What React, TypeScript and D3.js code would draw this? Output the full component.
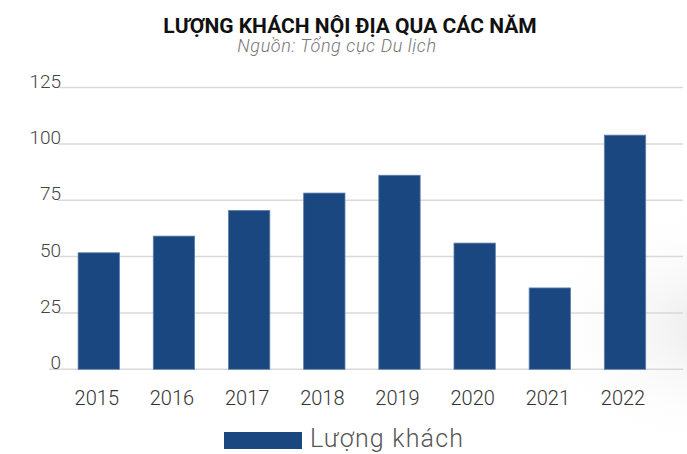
import React from "react";
import * as d3 from "d3";

const years = ["2015", "2016", "2017", "2018", "2019", "2020", "2021", "2022"];
const visitors = [51.7, 59.1, 70.5, 78.2, 86.1, 56.0, 36.1, 103.9];
const yTicks = [0, 25, 50, 75, 100, 125];
const title = "LƯỢNG KHÁCH NỘI ĐỊA QUA CÁC NĂM";
const subtitle = "Nguồn: Tổng cục Du lịch";
const seriesName = "Lượng khách";

const W = 687;
const H = 454;

export default function App() {
  const x = d3
    .scaleBand<string>()
    .domain(years)
    .range([61.2, 662.6])
    .paddingInner(0.45)
    .paddingOuter(0.225);
  const y = d3.scaleLinear().domain([0, 125]).range([369.3, 87.6]);
  const barColor = "#1a4780";
  const font = "Roboto, 'Open Sans', sans-serif";

  return (
    <svg
      width={W}
      height={H}
      style={{ position: "absolute", left: 0, top: 0, background: "#fff" }}
    >
      <defs>
        <radialGradient id="shade" cx="1.05" cy="0.72" r="0.28" gradientUnits="objectBoundingBox">
          <stop offset="0" stopColor="#e6e6e6" stopOpacity="0.9" />
          <stop offset="1" stopColor="#ffffff" stopOpacity="0" />
        </radialGradient>
      </defs>
      <rect x={0} y={0} width={W} height={H} fill="#fff" />
      <rect x={0} y={0} width={W} height={H} fill="url(#shade)" />

      <text
        x={350}
        y={33}
        textAnchor="middle"
        fontFamily={font}
        fontWeight={700}
        fontSize={21}
        fill="#111"
      >
        {title}
      </text>
      <text
        x={337}
        y={52}
        textAnchor="middle"
        fontFamily={font}
        fontStyle="italic"
        fontWeight={300}
        fontSize={18}
        letterSpacing={0.6}
        fill="#777"
      >
        {subtitle}
      </text>

      {yTicks.map((t) => (
        <g key={t}>
          <line
            x1={t === 0 ? 49 : 58}
            x2={683}
            y1={y(t)}
            y2={y(t)}
            stroke="#d9d9d9"
            strokeWidth={1.5}
          />
          <text
            x={61}
            y={y(t)}
            textAnchor="end"
            fontFamily={font}
            fontWeight={300}
            fontSize={19}
            fill="#444"
          >
            {t}
          </text>
        </g>
      ))}

      {years.map((yr, i) => (
        <rect
          key={yr}
          x={x(yr)}
          y={y(visitors[i])}
          width={x.bandwidth()}
          height={y(0) - y(visitors[i])}
          fill={barColor}
          stroke="#5d7fab"
          strokeWidth={0.8}
        />
      ))}

      {years.map((yr) => (
        <text
          key={yr}
          x={(x(yr) as number) + x.bandwidth() / 2 - 2}
          y={405}
          textAnchor="middle"
          fontFamily={font}
          fontWeight={300}
          fontSize={20}
          fill="#333"
        >
          {yr}
        </text>
      ))}

      <rect x={224} y={432} width={78} height={17} fill={barColor} />
      <text
        x={310}
        y={447}
        fontFamily={font}
        fontWeight={300}
        fontSize={25}
        letterSpacing={1.2}
        fill="#555"
      >
        {seriesName}
      </text>
    </svg>
  );
}
